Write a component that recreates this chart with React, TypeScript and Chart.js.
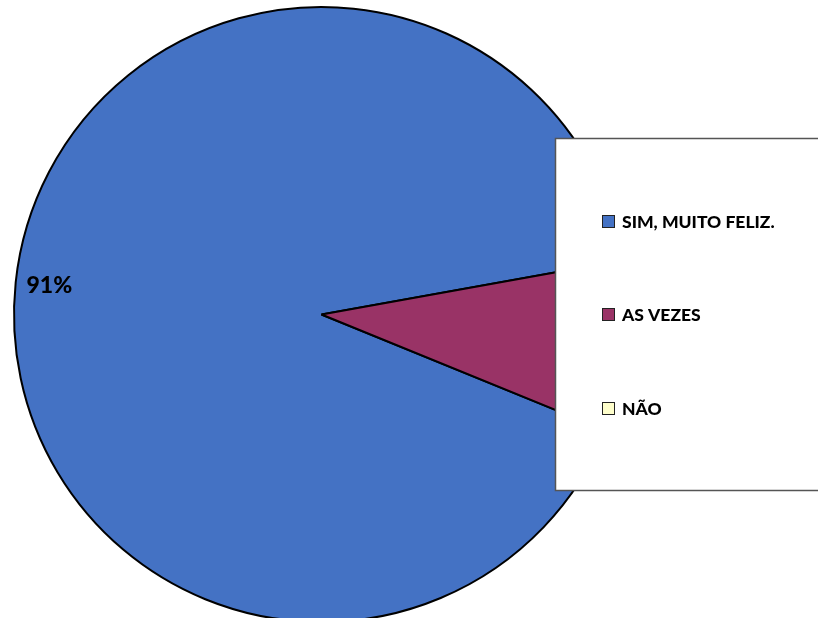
import React, { useEffect, useRef } from "react";
import { Chart, registerables } from "chart.js";

Chart.register(...registerables);

const categories = ["SIM, MUITO FELIZ.", "AS VEZES", "NÃO"];
const values = [91, 9, 0];
const colors = ["#4472C4", "#993366", "#FFFFCC"];
const shownLabels = ["91%", "", ""];

const FONT = "Lato, 'Open Sans', sans-serif";

const labelPlugin = {
  id: "sliceLabels",
  afterDatasetsDraw(chart: any) {
    const ctx = chart.ctx;
    const meta = chart.getDatasetMeta(0);
    ctx.save();
    ctx.fillStyle = "#000";
    ctx.font = `900 23px ${FONT}`;
    ctx.textAlign = "center";
    ctx.textBaseline = "middle";
    meta.data.forEach((arc: any, i: number) => {
      const text = shownLabels[i];
      if (!text) return;
      const mid = (arc.startAngle + arc.endAngle) / 2;
      const r = arc.outerRadius * 0.89;
      ctx.fillText(text, arc.x + Math.cos(mid) * r, arc.y + Math.sin(mid) * r);
    });
    ctx.restore();
  },
};

const legendPlugin = {
  id: "boxLegend",
  afterDraw(chart: any) {
    const ctx = chart.ctx;
    const left = 555.5;
    const top = 138.5;
    const bottom = 490.5;
    const right = 830;
    ctx.save();
    ctx.fillStyle = "#fff";
    ctx.fillRect(left, top, right - left, bottom - top);
    ctx.strokeStyle = "#555";
    ctx.lineWidth = 1.5;
    ctx.strokeRect(left, top, right - left, bottom - top);
    const ys = [221, 314, 408];
    ctx.font = `900 17.5px ${FONT}`;
    ctx.textBaseline = "middle";
    ctx.textAlign = "left";
    categories.forEach((c, i) => {
      const y = ys[i];
      ctx.fillStyle = colors[i];
      ctx.fillRect(602.5, y - 5.5, 12, 12);
      ctx.strokeStyle = "#222";
      ctx.lineWidth = 1;
      ctx.strokeRect(602.5, y - 5.5, 12, 12);
      ctx.fillStyle = "#000";
      ctx.fillText(c, 622, y + 1);
    });
    ctx.restore();
  },
};

export default function App() {
  const ref = useRef<HTMLCanvasElement>(null);
  useEffect(() => {
    document.body.style.margin = "0";
    document.body.style.overflow = "hidden";
    const chart = new Chart(ref.current!, {
      type: "pie",
      data: {
        labels: categories,
        datasets: [
          {
            data: values,
            backgroundColor: colors,
            borderColor: "#000",
            borderWidth: 2,
          },
        ],
      },
      options: {
        responsive: false,
        animation: false,
        rotation: 112.2,
        layout: { padding: { left: 13, top: 6, right: 188, bottom: 7 } },
        plugins: {
          legend: { display: false },
          tooltip: { enabled: false },
        },
      },
      plugins: [labelPlugin, legendPlugin],
    });
    return () => chart.destroy();
  }, []);
  return (
    <div style={{ width: 818, height: 618, overflow: "hidden", background: "#fff" }}>
      <canvas ref={ref} width={818} height={630} style={{ display: "block" }} />
    </div>
  );
}
